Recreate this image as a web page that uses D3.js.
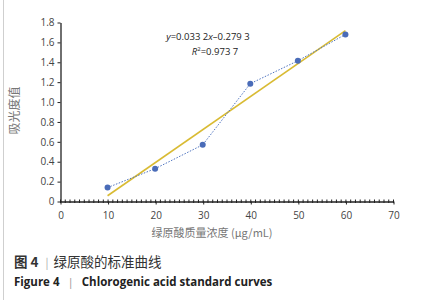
<!DOCTYPE html>
<html>
<head>
<meta charset="utf-8">
<script src="https://cdn.jsdelivr.net/npm/d3@7"></script>
<style>
  body { margin: 0; background: #fff; }
  svg { display: block; }
</style>
</head>
<body>
<div id="main"></div>
<script>
const ctx = {
    WIDTH: 445,
    HEIGHT: 300,
    left: 60, right: 393, top: 22, bottom: 201,
};

// data
const concentrations = [10, 20, 30, 40, 50, 60];
const absorbance = [0.135, 0.325, 0.565, 1.18, 1.41, 1.675];
const fitSlope = 0.0332;
const fitIntercept = -0.2793;
const xTicks = [0, 10, 20, 30, 40, 50, 60, 70];
const yTicks = [0, 0.2, 0.4, 0.6, 0.8, 1.0, 1.2, 1.4, 1.6, 1.8];
const yTickLabels = ["0", "0.2", "0.4", "0.6", "0.8", "1.0", "1.2", "1.4", "1.6", "1.8"];
const eqText = ["y", "=0.033 2", "x", "\u20130.279 3"];
const r2Text = ["R", "2", "=0.973 7"];

const svg = d3.select("#main").append("svg")
    .attr("width", ctx.WIDTH).attr("height", ctx.HEIGHT);

// thin frame line at left edge
svg.append("line").attr("x1", 3.5).attr("x2", 3.5).attr("y1", 0).attr("y2", ctx.HEIGHT)
    .attr("stroke", "#cfcfcf").attr("stroke-width", 1);

const x = d3.scaleLinear().domain([0, 70]).range([ctx.left, ctx.right]);
const y = d3.scaleLinear().domain([0, 1.8]).range([ctx.bottom, ctx.top]);

const tickFont = "Open Sans, Liberation Sans, sans-serif";

// minor ticks along x axis
svg.append("g").selectAll("line")
    .data(d3.range(0, 71, 1))
    .enter().append("line")
    .attr("x1", d => x(d) + 0.5).attr("x2", d => x(d) + 0.5)
    .attr("y1", ctx.bottom - 1.5).attr("y2", ctx.bottom + 2)
    .attr("stroke", "#222").attr("stroke-width", 1);

// x axis
const xAxis = svg.append("g")
    .attr("transform", `translate(0.5,${ctx.bottom + 0.5})`)
    .call(d3.axisBottom(x).tickValues(xTicks).tickSize(3).tickPadding(7).tickSizeOuter(0));
xAxis.select(".domain").attr("stroke", "#222").attr("stroke-width", 1.3);
xAxis.selectAll(".tick line").attr("stroke", "#222");
xAxis.selectAll("text").attr("font-family", tickFont).attr("font-size", 10).attr("fill", "#444");

// y axis
const yAxis = svg.append("g")
    .attr("transform", `translate(${ctx.left + 0.5},0.5)`)
    .call(d3.axisLeft(y).tickValues(yTicks).tickFormat((d, i) => yTickLabels[i])
        .tickSize(3).tickPadding(3).tickSizeOuter(0));
yAxis.select(".domain").attr("stroke", "#222").attr("stroke-width", 1.3);
yAxis.selectAll(".tick line").attr("stroke", "#222");
yAxis.selectAll("text").attr("font-family", tickFont).attr("font-size", 10).attr("fill", "#444");

// trend line
const fitXs = [d3.min(concentrations), d3.max(concentrations)];
svg.append("line")
    .attr("x1", x(fitXs[0])).attr("y1", y(fitSlope * fitXs[0] + fitIntercept))
    .attr("x2", x(fitXs[1])).attr("y2", y(fitSlope * fitXs[1] + fitIntercept))
    .attr("stroke", "#d9bb33").attr("stroke-width", 1.6);

// dotted data line
const pts = concentrations.map((c, i) => [c, absorbance[i]]);
svg.append("path")
    .attr("d", d3.line().x(d => x(d[0])).y(d => y(d[1]))(pts))
    .attr("fill", "none").attr("stroke", "#4f74c0").attr("stroke-width", 1)
    .attr("stroke-dasharray", "1.5,1.5");

svg.append("g").selectAll("circle")
    .data(pts).enter().append("circle")
    .attr("cx", d => x(d[0])).attr("cy", d => y(d[1])).attr("r", 3)
    .attr("fill", "#4a6cb8");

// equation text
const eq = svg.append("text").attr("x", 208).attr("y", 40)
    .attr("text-anchor", "middle").attr("font-family", tickFont)
    .attr("font-size", 9.5).attr("fill", "#222");
eq.selectAll("tspan").data(eqText).enter().append("tspan")
    .attr("font-style", (d, i) => (i % 2 === 0 ? "italic" : "normal"))
    .text(d => d);

const r2 = svg.append("text").attr("x", 215).attr("y", 55)
    .attr("text-anchor", "middle").attr("font-family", tickFont)
    .attr("font-size", 9.5).attr("fill", "#222");
r2.append("tspan").attr("font-style", "italic").text(r2Text[0]);
r2.append("tspan").attr("font-size", 6).attr("dy", -4).text(r2Text[1]);
r2.append("tspan").attr("dy", 4).text(r2Text[2]);

// axis titles
svg.append("text")
    .attr("transform", `translate(19,${(ctx.top + ctx.bottom) / 2 - 1}) rotate(-90)`)
    .attr("text-anchor", "middle")
    .attr("font-family", "Noto Sans CJK SC").attr("font-size", 12).attr("fill", "#777")
    .text("吸光度值");

svg.append("text")
    .attr("x", 212).attr("y", 237).attr("text-anchor", "middle")
    .attr("font-family", "Noto Sans CJK SC").attr("font-size", 11).attr("fill", "#777")
    .text("绿原酸质量浓度 (μg/mL)");

// captions
const cap1 = svg.append("text").attr("x", 14).attr("y", 267)
    .attr("font-family", "Noto Sans CJK SC").attr("font-size", 13.5).attr("fill", "#333");
cap1.append("tspan").attr("font-weight", "bold").text("图 4");
cap1.append("tspan").attr("dx", 7).attr("fill", "#aaa").attr("font-size", 11).text("|");
cap1.append("tspan").attr("dx", 5).text("绿原酸的标准曲线");

const cap2 = svg.append("text").attr("x", 14).attr("y", 285.5)
    .attr("font-family", tickFont).attr("font-size", 11.5).attr("font-weight", "bold").attr("fill", "#222");
cap2.append("tspan").text("Figure 4");
cap2.append("tspan").attr("dx", 8).attr("font-weight", "normal").attr("fill", "#999").text("|");
cap2.append("tspan").attr("dx", 8).text("Chlorogenic acid standard curves");
</script>
</body>
</html>
